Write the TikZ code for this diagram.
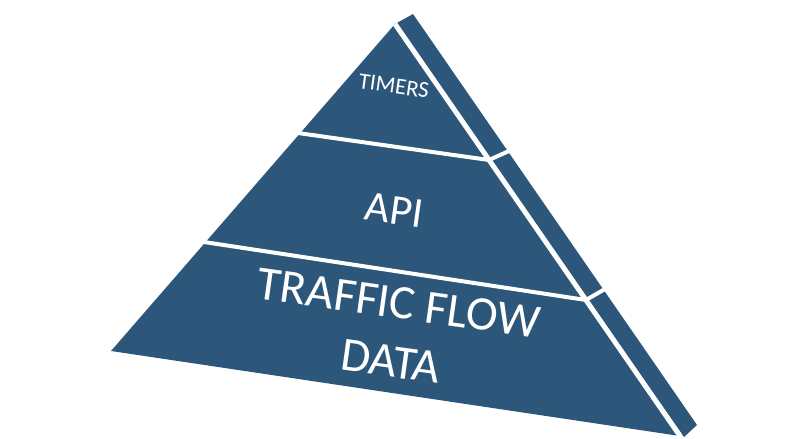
\documentclass[tikz,border=0pt]{standalone}
\usepackage{fontspec}
\setmainfont{Carlito}
\definecolor{pyrblue}{RGB}{44,87,122}
\tikzset{layer/.style={text=white, rotate=-8, align=center, inner sep=0pt}}

\begin{document}
\begin{tikzpicture}[x=1pt, y=-1pt]
		\useasboundingbox (0, 0) rectangle (804, 439);
		\coordinate (apex) at (395, 24);
		\coordinate (top_back) at (413, 14);
		\coordinate (base_left) at (111, 351);
		\coordinate (base_right) at (680, 436);
		\coordinate (back_right) at (697, 425);
		\coordinate (back_corner) at (684, 437);
		% side face and front face
		\fill[pyrblue] (apex) -- (top_back) -- (back_right) -- (back_corner) -- cycle;
		\fill[pyrblue] (apex) -- (base_left) -- (base_right) -- cycle;
		% white cuts
		\draw[white, line width=5pt] (apex) -- (base_right);
		\draw[white, line width=4pt] (298, 133) -- (489, 160) -- (509, 151);
		\draw[white, line width=4pt] (204, 242) -- (586, 300) -- (605, 289);
		% labels
		\node[layer, font=\fontsize{23}{27}\selectfont] (timers) at (394, 86) {TIMERS};
		\node[layer, font=\fontsize{43}{50}\selectfont] (api) at (394, 210) {API};
		\node[layer, font=\fontsize{48}{59}\selectfont] (data) at (395, 332) {TRAFFIC FLOW\\DATA};
\end{tikzpicture}
\end{document}
